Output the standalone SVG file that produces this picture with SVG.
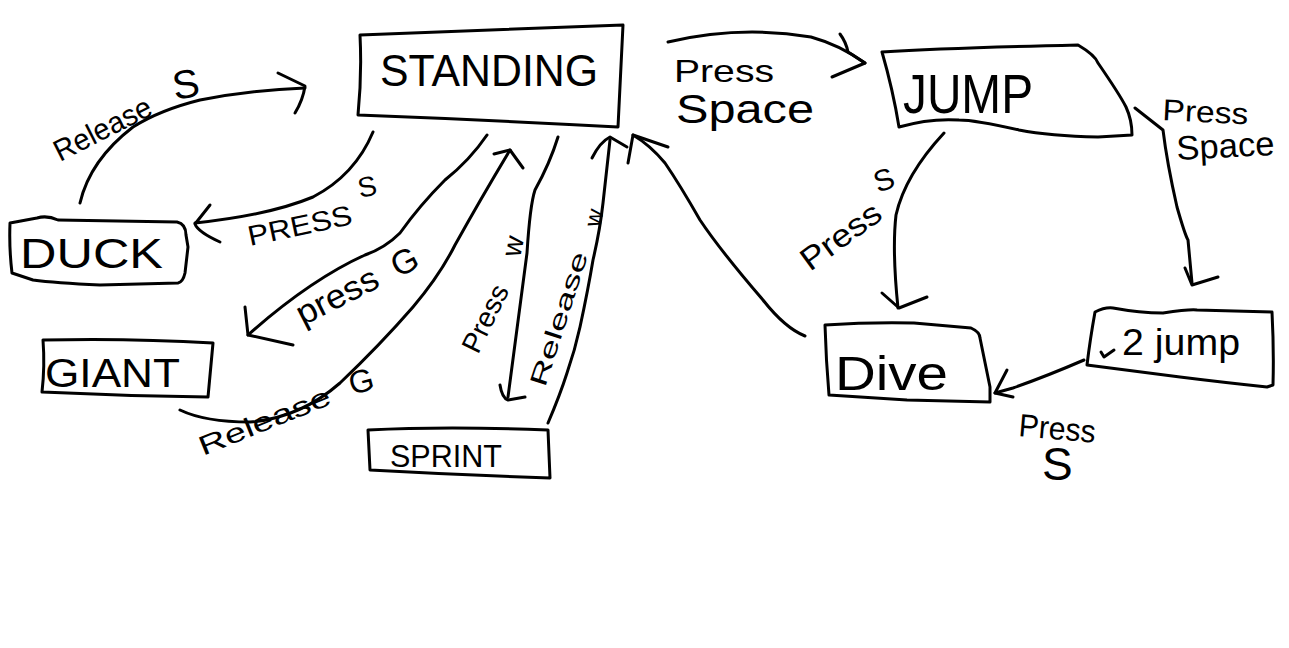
<svg xmlns="http://www.w3.org/2000/svg" width="1289" height="648" viewBox="0 0 1289 648">
<style>
.box{fill:none;stroke:#000;stroke-width:3;stroke-linejoin:round;stroke-linecap:round}
.edge{fill:none;stroke:#000;stroke-width:3;stroke-linecap:round;stroke-linejoin:round}
.nt{font-family:"Liberation Sans",Arial,sans-serif;fill:#000}
.lb{font-family:"Liberation Sans",Arial,sans-serif;fill:#000}
</style>
<rect width="1289" height="648" fill="#fff"/>

<g id="node-standing">
<path class="box" d="M360,35 Q490,30 623,25 L618,127 Q490,120 358,115 Q362,75 360,35 Z"/>
<text class="nt" x="380" y="86" font-size="44" textLength="218" lengthAdjust="spacingAndGlyphs">STANDING</text>
</g>
<g id="node-duck">
<path class="box" d="M10,223 L37,218 Q47,215 58,220 L177,222 Q186,224 186,235 L188,247 L185,273 Q183,282 178,283 L100,285 Q55,283 33,280 L12,273 Q9,248 10,223 Z"/>
<text class="nt" x="20" y="268" font-size="42" textLength="143" lengthAdjust="spacingAndGlyphs">DUCK</text>
</g>
<g id="node-giant">
<path class="box" d="M43,340 Q130,338 213,343 L208,397 Q125,396 42,392 Q45,366 43,340 Z"/>
<text class="nt" x="45" y="387" font-size="40" textLength="135" lengthAdjust="spacingAndGlyphs">GIANT</text>
</g>
<g id="node-sprint">
<path class="box" d="M368,430 Q447,426 548,430 L550,478 Q460,475 370,470 Z"/>
<text class="nt" x="390" y="467" font-size="32" textLength="112" lengthAdjust="spacingAndGlyphs">SPRINT</text>
</g>
<g id="node-jump">
<path class="box" d="M882,52 Q947,48 1078,45 Q1095,55 1098,63 Q1120,95 1126,107 Q1132,120 1132,135 L1098,137 Q1050,136 1019,130 Q975,120 959,120 Q930,118 899,127 Q893,90 882,52 Z"/>
<text class="nt" x="903" y="113" font-size="56" textLength="130" lengthAdjust="spacingAndGlyphs">JUMP</text>
</g>
<g id="node-dive">
<path class="box" d="M825,325 Q870,322 914,323 L971,328 Q980,332 980,338 L990,387 L990,402 Q950,401 907,400 L829,395 Q826,360 825,325 Z"/>
<text class="nt" x="835" y="390" font-size="48" textLength="113" lengthAdjust="spacingAndGlyphs">Dive</text>
</g>
<g id="node-2jump">
<path class="box" d="M1095,312 Q1105,307 1113,308 Q1140,313 1163,313 Q1190,309 1197,310 L1272,312 Q1274,350 1273,385 L1267,387 Q1220,382 1180,377 L1087,365 Q1090,340 1095,312 Z"/>
<path class="edge" stroke-width="2" d="M1101,352 L1104,357 L1114,350"/>
<text class="nt" x="1122" y="355" font-size="36" textLength="118" lengthAdjust="spacingAndGlyphs">2 jump</text>
</g>

<g id="connectors">
<g id="e-duck-standing">
<path class="edge" d="M80,203 Q90,160 133,127 Q160,110 200,100 Q250,90 305,88"/>
<path class="edge" d="M278,73 L305,86 Q303,100 295,113"/>
<text class="lb" font-size="30" transform="translate(60,162) rotate(-27)" textLength="106" lengthAdjust="spacingAndGlyphs">Release</text>
<text class="lb" font-size="40" transform="translate(175,100) rotate(-10)">S</text>
</g>
<g id="e-standing-duck">
<path class="edge" d="M373,132 Q355,175 313,197 Q270,215 195,223"/>
<path class="edge" d="M210,205 L195,224 Q198,232 220,242"/>
<text class="lb" font-size="28" transform="translate(250,246) rotate(-12)" textLength="106" lengthAdjust="spacingAndGlyphs">PRESS</text>
<text class="lb" font-size="28" transform="translate(360,198) rotate(-12)">S</text>
</g>
<g id="e-standing-giant">
<path class="edge" d="M487,135 Q470,160 445,180 Q420,205 400,233 Q385,248 365,255 Q310,280 248,335"/>
<path class="edge" d="M245,307 L248,335 L293,345"/>
<text class="lb" font-size="34" transform="translate(303,326) rotate(-27)" textLength="88" lengthAdjust="spacingAndGlyphs">press</text>
<text class="lb" font-size="34" transform="translate(398,278) rotate(-27)">G</text>
</g>
<g id="e-giant-standing">
<path class="edge" d="M180,410 Q205,422 250,422 Q300,418 340,383 Q380,345 413,307 Q440,275 455,245 Q480,200 510,150"/>
<path class="edge" d="M494,154 L510,150 L523,168"/>
<text class="lb" font-size="27" transform="translate(203,456) rotate(-22)" textLength="140" lengthAdjust="spacingAndGlyphs">Release</text>
<text class="lb" font-size="32" transform="translate(352,395) rotate(-15)">G</text>
</g>
<g id="e-standing-sprint">
<path class="edge" d="M558,137 Q550,163 535,190 Q530,205 527,253 L508,397"/>
<path class="edge" d="M500,385 Q502,398 508,400 L525,397"/>
<text class="lb" font-size="28" transform="translate(478,355) rotate(-64)" textLength="72" lengthAdjust="spacingAndGlyphs">Press</text>
<text class="lb" font-size="28" transform="translate(520,258) rotate(-78)">w</text>
</g>
<g id="e-sprint-standing">
<path class="edge" d="M548,423 Q560,395 567,373 Q575,350 580,327 Q588,290 593,260 Q600,230 603,203 L610,140"/>
<path class="edge" d="M592,158 Q600,142 610,137 L627,147"/>
<text class="lb" font-size="24" transform="translate(545,388) rotate(-72)" textLength="140" lengthAdjust="spacingAndGlyphs">Release</text>
<text class="lb" font-size="24" transform="translate(600,228) rotate(-78)">w</text>
</g>
<g id="e-dive-standing">
<path class="edge" d="M805,336 Q785,328 763,300 Q720,250 700,220 Q680,185 665,163 Q650,145 633,135"/>
<path class="edge" d="M628,163 L633,135 L668,147"/>
</g>
<g id="e-standing-jump">
<path class="edge" d="M668,42 Q740,25 811,37 Q840,45 865,63"/>
<path class="edge" d="M840,34 Q846,42 848,52 L865,63 L832,77"/>
<text class="lb" font-size="32" x="674" y="82" textLength="100" lengthAdjust="spacingAndGlyphs">Press</text>
<text class="lb" font-size="40" x="676" y="123" textLength="138" lengthAdjust="spacingAndGlyphs">Space</text>
</g>
<g id="e-jump-dive">
<path class="edge" d="M944,133 Q905,175 896,215 Q892,250 898,308"/>
<path class="edge" d="M882,293 L899,308 L927,297"/>
<text class="lb" font-size="32" transform="translate(810,272) rotate(-36)" textLength="92" lengthAdjust="spacingAndGlyphs">Press</text>
<text class="lb" font-size="30" transform="translate(878,193) rotate(-20)">S</text>
</g>
<g id="e-jump-2jump">
<path class="edge" d="M1135,108 L1163,130 Q1167,163 1177,207 Q1185,235 1188,240 L1192,283"/>
<path class="edge" d="M1185,268 L1192,285 L1218,277"/>
<text class="lb" font-size="30" transform="translate(1162,120) rotate(3)" textLength="86" lengthAdjust="spacingAndGlyphs">Press</text>
<text class="lb" font-size="34" transform="translate(1177,160) rotate(-3)" textLength="98" lengthAdjust="spacingAndGlyphs">Space</text>
</g>
<g id="e-2jump-dive">
<path class="edge" d="M1084,360 Q1047,376 1013,388 L995,393"/>
<path class="edge" d="M1007,370 L995,393 L1013,397"/>
<text class="lb" font-size="32" transform="translate(1018,436) rotate(5)" textLength="77" lengthAdjust="spacingAndGlyphs">Press</text>
<text class="lb" font-size="46" x="1042" y="480">S</text>
</g>
</g>
</svg>
